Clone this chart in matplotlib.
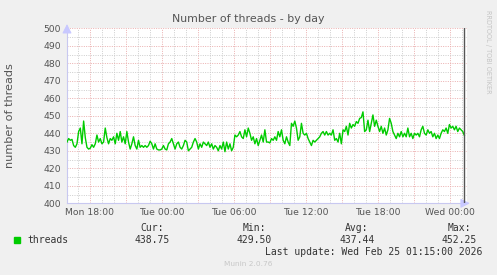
import matplotlib
matplotlib.use('Agg')
import matplotlib.pyplot as plt
import matplotlib.dates as mdates
import pandas as pd

# threads values (Mon 16:05 -> Wed 01:12)
threads = [
    435, 437, 436, 436.5, 433, 432, 434, 441, 443, 434, 447, 437.5, 432, 431, 431.5,
    433.5, 432, 434, 439, 435, 437, 434, 435, 443, 437.5, 434, 437, 436, 438,
    434, 440, 436, 441, 435, 438, 434, 441, 435, 431, 434, 438, 433, 431, 436, 432,
    433, 432, 433, 432, 433, 435.5, 434, 431, 434, 431, 430.5, 430.5, 431, 433, 431, 430.5,
    434, 435, 437, 434, 431, 434, 435, 432, 431, 433, 436, 435, 430, 431, 432,
    435, 437, 435, 431, 434, 432, 435, 434, 433, 435, 432, 434, 431, 433,
    432, 430, 433, 431, 435, 429.5, 435, 431, 434, 430, 432, 439, 438, 439, 441,
    438, 437, 442, 438, 443, 440, 436, 438, 434, 437, 433, 436, 439, 435, 442,
    435, 435, 434.5, 437, 436, 438, 436, 441, 438, 442, 436, 434, 438, 435, 433,
    445.7, 444, 447, 443, 436, 438, 445.7, 440, 439, 440, 437, 435, 433, 436, 435,
    436, 437, 438, 440, 441, 439, 441, 439, 440, 439, 442, 436, 437, 435, 440,
    434, 442, 441, 444, 439, 445.7, 443, 445, 444, 446.7, 445.7, 448.5, 449, 452.25, 441,
    442, 447.5, 441, 445.7, 450.5, 444, 447.5, 444, 441, 444, 440, 443, 439, 442, 448.5,
    445.7, 441, 439, 437, 440, 438, 441, 438, 440, 438, 443, 438, 440, 437, 440,
    439, 440, 438, 442, 444, 440, 439, 442, 440, 441, 438, 440, 437, 439, 437,
    440, 442, 441, 443, 440, 445, 443, 444, 442, 444, 441, 443, 442, 441, 438.75,
]

data_start = pd.Timestamp('2026-02-23 16:05')
data_end = pd.Timestamp('2026-02-25 01:12')
view_start = pd.Timestamp('2026-02-23 16:05')
view_end = pd.Timestamp('2026-02-25 01:25')
times = pd.date_range(data_start, data_end, periods=len(threads))

y_min, y_max = 400, 500
legend_heads = ['Cur:', 'Min:', 'Avg:', 'Max:']
legend_vals = ['438.75', '429.50', '437.44', '452.25']
last_update = 'Last update: Wed Feb 25 01:15:00 2026'

W, H = 497, 275
fig = plt.figure(figsize=(W / 100, H / 100), dpi=100, facecolor='#F0F0F0')
ax = fig.add_axes([67 / W, 1 - 203.3 / H, 400 / W, 175 / H])
ax.set_facecolor('white')

dot = (0, (1, 1.4))
minor_c = '#CCCCCC'
major_c = '#EAAEAE'

# 縦のグリッド: 1時間ごと灰色, 3時間ごと赤
for t in pd.date_range('2026-02-23 17:00', view_end, freq='1h'):
    c = major_c if t.hour % 3 == 0 else minor_c
    ax.axvline(t, color=c, lw=0.7, ls=dot, zorder=1)
# 横のグリッド: 5ごと灰色, 10ごと赤
for v in range(y_min + 5, y_max + 1, 5):
    c = major_c if v % 10 == 0 else minor_c
    ax.axhline(v, color=c, lw=0.7, ls=dot, zorder=1)

ax.plot(times, threads, color='#00CC00', lw=1.0, zorder=3)
ax.axvline(data_end, color='#555555', lw=1.0, zorder=4)

ax.set_xlim(view_start, view_end)
ax.set_ylim(y_min, y_max)
ax.set_yticks(range(y_min, y_max + 1, 10))
ax.xaxis.set_major_locator(mdates.HourLocator(byhour=[0, 6, 12, 18]))
ax.xaxis.set_major_formatter(mdates.DateFormatter('%a %H:%M'))
ax.tick_params(length=0, labelsize=6.7, colors='#555555')
ax.tick_params(axis='y', pad=4.5)
ax.tick_params(axis='x', pad=3.5)

for s in ['top', 'right']:
    ax.spines[s].set_visible(False)
for s in ['left', 'bottom']:
    ax.spines[s].set_color('#C8C8F0')
    ax.spines[s].set_linewidth(0.8)

# 軸の矢印
ax.annotate('', xy=(1.014, 0), xytext=(0.99, 0), xycoords='axes fraction',
            arrowprops=dict(arrowstyle='-|>,head_length=0.55,head_width=0.28',
                            color='#C8C8FF', lw=0.8))
ax.annotate('', xy=(0, 1.04), xytext=(0, 0.99), xycoords='axes fraction',
            arrowprops=dict(arrowstyle='-|>,head_length=0.55,head_width=0.28',
                            color='#C8C8FF', lw=0.8))

fig.text(0.5, 1 - 19 / H, 'Number of threads - by day', ha='center', va='center',
         fontsize=7.9, color='#555555')
fig.text(10.5 / W, 1 - 115.7 / H, 'number of threads', rotation=90, ha='center',
         va='center', fontsize=8.1, color='#555555')
fig.text(488 / W, 1 - 52 / H, 'RRDTOOL / TOBI OETIKER', rotation=270, ha='center',
         va='center', fontsize=4.7, color='#C4C4C4')

# 凡例
mono = 'DejaVu Sans Mono'
fig.patches.append(plt.Rectangle((14 / W, 1 - 242.5 / H), 5.5 / W, 5.5 / H,
                                 transform=fig.transFigure, color='#00CC00'))
fig.text(27 / W, 1 - 239.8 / H, 'threads', ha='left', va='center',
         fontsize=7, family=mono, color='#333333')
head_x = [163.5, 265.7, 368.3, 470.7]
val_x = [170, 271.7, 375, 476.7]
for hx, h in zip(head_x, legend_heads):
    fig.text(hx / W, 1 - 227.7 / H, h, ha='right', va='center', fontsize=7,
             family=mono, color='#333333')
for vx, v in zip(val_x, legend_vals):
    fig.text(vx / W, 1 - 239.8 / H, v, ha='right', va='center', fontsize=7,
             family=mono, color='#333333')
fig.text(482.5 / W, 1 - 251.7 / H, last_update, ha='right', va='center',
         fontsize=7, family=mono, color='#333333')
fig.text(0.5, 1 - 264 / H, 'Munin 2.0.76', ha='center', va='center',
         fontsize=5.3, color='#C8C8C8')

fig.savefig('out.png', dpi=100, facecolor=fig.get_facecolor())
